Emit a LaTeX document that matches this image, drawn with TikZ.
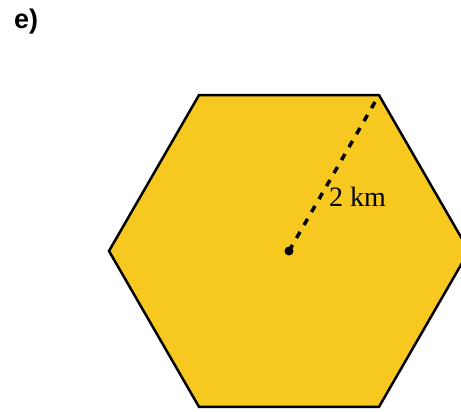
\documentclass[tikz,border=0pt]{standalone}
\usepackage{fontspec}
\newfontfamily\labelfont{Liberation Sans}
\newfontfamily\measurefont{Liberation Serif}
\usepackage{tikz}
\usetikzlibrary{calc, positioning}
\definecolor{hexyellow}{RGB}{246,200,32}
\tikzset{
    hexface/.style={fill=hexyellow, draw=black, line width=2.5pt, line join=miter},
    radiusline/.style={draw=black, line width=3.5pt, dash pattern=on 7pt off 8pt},
    centerdot/.style={circle, fill=black, inner sep=0pt, minimum size=9pt},
    measure/.style={font=\measurefont\fontsize{28}{30}\selectfont, inner sep=0pt},
    partlabel/.style={font=\labelfont\bfseries\fontsize{27}{30}\selectfont, inner sep=0pt}
}

\begin{document}
\begin{tikzpicture}[x=1pt, y=1pt]

\useasboundingbox (0,0) rectangle (461,412);
\clip (0,0) rectangle (461,412);

% hexagon around its centre
\coordinate (hexc) at (289,161);
\draw[hexface] ($(hexc)+(0:180)$) -- ($(hexc)+(60:180)$) -- ($(hexc)+(120:180)$)
    -- ($(hexc)+(180:180)$) -- ($(hexc)+(240:180)$) -- ($(hexc)+(300:180)$) -- cycle;
\coordinate (corner) at ($(hexc)+(60:176)$);

\node[centerdot] (mid) at (hexc) {};
\draw[radiusline] (mid.center) -- (corner);
\node[measure, anchor=base west] (radius) at (329,205) {2 km};

\node[partlabel, anchor=base west] (part) at (14,383) {e)};

\end{tikzpicture}
\end{document}
